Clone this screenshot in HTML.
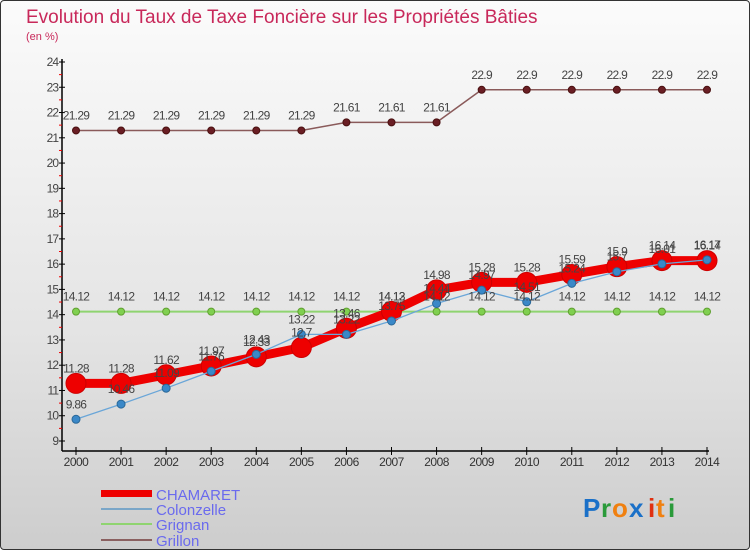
<!DOCTYPE html>
<html><head><meta charset="utf-8"><style>
html,body{margin:0;padding:0;}
body{width:750px;height:550px;overflow:hidden;font-family:"Liberation Sans",sans-serif;}
#wrap{position:relative;width:748px;height:548px;border:1px solid #333;border-radius:4px;background:linear-gradient(#fbfbfb,#e4e4e4 60%,#cdcdcd);overflow:hidden;}
</style></head><body>
<div id="wrap">
<svg id="chart" width="748" height="548" xmlns="http://www.w3.org/2000/svg">
<text x="25" y="22" font-size="19" fill="#c8285a">Evolution du Taux de Taxe Foncière sur les Propriétés Bâties</text>
<text x="25" y="39" font-size="11" fill="#c8285a">(en %)</text>
<g id="axes"></g><g id="series"></g><g id="labels"></g>
<g>
<rect x="100" y="489" width="51" height="7" fill="#e00"/>
<text x="155" y="499" font-size="15" fill="#6a6aee">CHAMARET</text>
<rect x="100" y="507" width="51" height="2" fill="#7aa6c8"/>
<text x="155" y="514" font-size="15" fill="#6a6aee">Colonzelle</text>
<rect x="100" y="522" width="51" height="2" fill="#8fd470"/>
<text x="155" y="529" font-size="15" fill="#6a6aee">Grignan</text>
<rect x="100" y="538" width="51" height="2" fill="#8a6060"/>
<text x="155" y="545" font-size="15" fill="#6a6aee">Grillon</text>
</g>
<g font-size="26" font-weight="bold">
<text x="582" y="516" fill="#1a70c8">P</text><text x="600" y="516" fill="#2a9a3a">r</text><text x="611" y="516" fill="#f08010">o</text><text x="628" y="516" fill="#1a70c8">x</text><text x="647" y="516" fill="#e03010">i</text><text x="655" y="516" fill="#f08010">t</text><text x="667" y="516" fill="#2a9a3a">i</text>
</g>
</svg>
</div>
<script>
const years=[2000,2001,2002,2003,2004,2005,2006,2007,2008,2009,2010,2011,2012,2013,2014];
const chamaret=[11.28,11.28,11.62,11.97,12.33,12.7,13.46,14.13,14.98,15.28,15.28,15.59,15.9,16.14,16.14];
const colonzelle=[9.86,10.46,11.09,11.76,12.43,13.22,13.22,13.75,14.44,14.97,14.51,15.24,15.7,16.01,16.17];
const grignan=[14.12,14.12,14.12,14.12,14.12,14.12,14.12,14.12,14.12,14.12,14.12,14.12,14.12,14.12,14.12];
const grillon=[21.29,21.29,21.29,21.29,21.29,21.29,21.61,21.61,21.61,22.9,22.9,22.9,22.9,22.9,22.9];
const yTicks=[9,10,11,12,13,14,15,16,17,18,19,20,21,22,23,24];
const NS="http://www.w3.org/2000/svg";
const x=i=>75+i*(706-75)/(years.length-1);
const y=v=>440-(v-9)*(440-61)/15;
function mk(tag,attrs,parent){const e=document.createElementNS(NS,tag);for(const k in attrs)e.setAttribute(k,attrs[k]);parent.appendChild(e);return e;}
const axes=document.getElementById('axes'),ser=document.getElementById('series'),lab=document.getElementById('labels');
let a=mk('line',{x1:61,y1:58,x2:61,y2:450,stroke:'#000','stroke-width':1.5},axes);


a=mk('line',{x1:61,y1:450,x2:708,y2:450,stroke:'#000','stroke-width':1.5},axes);


yTicks.forEach(v=>{
 mk('line',{x1:58,y1:y(v),x2:64,y2:y(v),stroke:'#000'},axes);
 if(v<24) mk('line',{x1:58,y1:y(v+0.5),x2:61,y2:y(v+0.5),stroke:'#e00'},axes);
 const t=mk('text',{x:57,y:y(v)+4,'font-size':12,'text-anchor':'end',fill:'#444','letter-spacing':'-1'},axes);
 
 
 t.textContent=v;
});
years.forEach((yr,i)=>{
 mk('line',{x1:x(i),y1:446,x2:x(i),y2:454,stroke:'#000'},axes);
 const t=mk('text',{x:x(i),y:465,'font-size':12,'text-anchor':'middle',fill:'#333','letter-spacing':'-0.5'},axes);
 
 
 t.textContent=yr;
});
function draw(name,vals,color,w,r,dot,dotStroke){
 const pts=vals.map((v,i)=>x(i)+','+y(v)).join(' ');
 const l=mk('polyline',{points:pts,fill:'none',stroke:color,'stroke-width':w,'stroke-linejoin':'round'},ser);
 
 
 vals.forEach((v,i)=>{
  const c=mk('circle',{cx:x(i),cy:y(v),r:r,fill:dot,stroke:dotStroke,'stroke-width':1},ser);
  
  
  const t=mk('text',{x:x(i),y:y(v)-11,'font-size':12,'text-anchor':'middle',fill:'#444','letter-spacing':'-0.7'},lab);
  
  
  t.textContent=v;
 });
}
draw('grillon',grillon,'#8a5a5a',1.5,3.5,'#6a1e24','#4a1010');
draw('grignan',grignan,'#8fd470',2,3.5,'#80d050','#60a030');
draw('chamaret',chamaret,'#e00',9,10,'#e00','#c00');
draw('colonzelle',colonzelle,'#6aa6d8',1.3,4,'#3a88c8','#2a6898');
</script>
</body></html>
